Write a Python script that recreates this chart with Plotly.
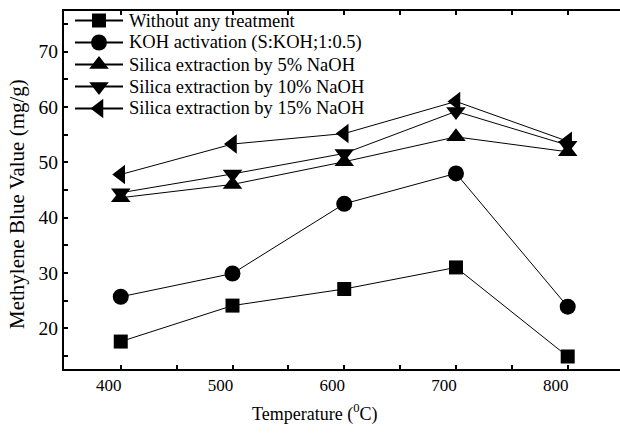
import plotly.graph_objects as go

temps = [400, 500, 600, 700, 800]
without_treatment = [17.6, 24.1, 27.1, 31.0, 14.9]
koh_activation = [25.7, 29.9, 42.5, 48.0, 23.9]
silica_5 = [43.6, 46.0, 50.1, 54.6, 51.9]
silica_10 = [44.5, 47.9, 51.6, 59.2, 53.1]
silica_15 = [47.8, 53.3, 55.2, 61.0, 53.8]

series_names = [
    "Without any treatment",
    "KOH activation (S:KOH;1:0.5)",
    "Silica extraction by 5% NaOH",
    "Silica extraction by 10% NaOH",
    "Silica extraction by 15% NaOH",
]
series_values = [without_treatment, koh_activation, silica_5, silica_10, silica_15]
symbols = ["square", "circle", "triangle-up", "triangle-down", "triangle-left"]
sizes = [14, 16, 17, 17, 17]

x_ticks = [350, 400, 450, 500, 550, 600, 650, 700, 750, 800, 850]
x_ticktext = ["", "400", "", "500", "", "600", "", "700", "", "800", ""]
y_ticks = [15, 20, 25, 30, 35, 40, 45, 50, 55, 60, 65, 70, 75]
y_ticktext = ["", "20", "", "30", "", "40", "", "50", "", "60", "", "70", ""]

FONT = "Liberation Serif, Times New Roman, serif"

# layout geometry (pixels)
W, H = 620, 433
ML, MR, MT, MB = 64, 0, 11, 64
PW, PH = W - ML - MR, H - MT - MB

def px_x(p):
    return (p - ML) / PW

def px_y(p):
    return (H - MB - p) / PH

# legend layout in pixel units of an overlay axis
leg_y0, leg_dy = 20.5, 22.0
leg_line_x0, leg_line_x1, leg_mark_x, leg_text_x = 75, 123, 99, 127

fig = go.Figure()
for name, vals, sym, sz in zip(series_names, series_values, symbols, sizes):
    fig.add_trace(go.Scatter(
        x=temps, y=vals, name=name, mode="lines+markers",
        line=dict(color="black", width=1),
        marker=dict(symbol=sym, size=sz, color="black"),
        showlegend=False,
    ))

annotations = []
for i, (name, sym, sz) in enumerate(zip(series_names, symbols, sizes)):
    yy = leg_y0 + i * leg_dy
    fig.add_trace(go.Scatter(
        x=[leg_line_x0, leg_line_x1], y=[yy, yy], mode="lines",
        line=dict(color="black", width=2), xaxis="x2", yaxis="y2",
        showlegend=False, hoverinfo="skip",
    ))
    fig.add_trace(go.Scatter(
        x=[leg_mark_x], y=[yy], mode="markers",
        marker=dict(symbol=sym, size=sz, color="black"), xaxis="x2", yaxis="y2",
        showlegend=False, hoverinfo="skip",
    ))
    annotations.append(dict(
        text=name, xref="paper", yref="paper", x=px_x(leg_text_x), y=px_y(yy),
        xanchor="left", yanchor="middle", showarrow=False,
        font=dict(family=FONT, size=18.5, color="black"),
    ))

annotations.append(dict(
    text="Temperature (<sup>0</sup>C)", xref="paper", yref="paper",
    x=px_x(250), y=px_y(413), xanchor="left", yanchor="middle", showarrow=False,
    font=dict(family=FONT, size=18, color="black"),
))
annotations.append(dict(
    text="Methylene Blue Value (mg/g)", xref="paper", yref="paper",
    x=px_x(17), y=px_y(204), xanchor="center", yanchor="middle", showarrow=False,
    textangle=-90, font=dict(family=FONT, size=21, color="black"),
))

fig.update_layout(
    width=W, height=H,
    margin=dict(l=ML, r=MR, t=MT, b=MB),
    paper_bgcolor="white", plot_bgcolor="white",
    font=dict(family=FONT, size=17, color="black"),
    showlegend=False,
    annotations=annotations,
    xaxis=dict(
        range=[349.2, 846.8], showgrid=False, zeroline=False,
        showline=True, linecolor="black", linewidth=2, mirror="ticks",
        ticks="inside", ticklen=4, tickwidth=2, tickcolor="black",
        tickvals=x_ticks, ticktext=x_ticktext, ticklabelshift=-12,
        tickfont=dict(family=FONT, size=17),
    ),
    yaxis=dict(
        range=[12.64, 77.35], showgrid=False, zeroline=False,
        showline=True, linecolor="black", linewidth=2, mirror=False,
        ticks="inside", ticklen=4, tickwidth=2, tickcolor="black",
        tickvals=y_ticks, ticktext=y_ticktext,
        tickfont=dict(family=FONT, size=19.5),
    ),
    xaxis2=dict(range=[ML, W - MR], overlaying="x", visible=False, fixedrange=True),
    yaxis2=dict(range=[H - MB, MT], overlaying="y", visible=False, fixedrange=True),
)

fig.write_html("out.html")
